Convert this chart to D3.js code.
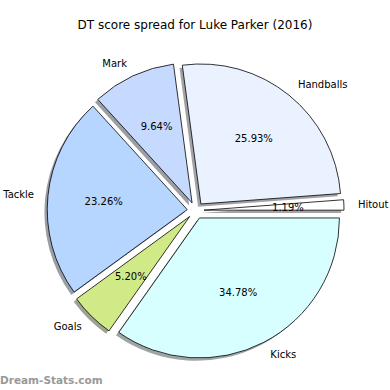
<!DOCTYPE html>
<html>
<head>
<meta charset="utf-8">
<script src="https://cdn.jsdelivr.net/npm/d3@7"></script>
<style>
  body { margin: 0; background: #fff; }
  svg { font-family: "DejaVu Sans", sans-serif; }
</style>
</head>
<body>
<div id="chart"></div>
<script>
// slice order follows the original (counterclockwise from 3 o'clock)
const categories = ["Hitout", "Handballs", "Mark", "Tackle", "Goals", "Kicks"];
const percents = [1.19, 25.93, 9.64, 23.26, 5.20, 34.78];
const colors = ["#ffffff", "#eaf2ff", "#c6d9ff", "#b6d6ff", "#d0ea88", "#d8ffff"];

const width = 390, height = 390;
const cx = 195.6, cy = 210.5, radius = 140;
const explode = 0.06 * radius;

const svg = d3.select("#chart").append("svg")
  .attr("width", width)
  .attr("height", height);

const defs = svg.append("defs");
defs.append("filter").attr("id", "blur")
  .append("feGaussianBlur").attr("stdDeviation", 0.7);

svg.append("text")
  .attr("x", width / 2)
  .attr("y", 25)
  .attr("text-anchor", "middle")
  .attr("dominant-baseline", "central")
  .style("font-size", "12px")
  .text("DT score spread for Luke Parker (2016)");

const data = categories.map((c, i) => ({ name: c, value: percents[i], color: colors[i] }));

// counterclockwise pie starting at 3 o'clock
const pie = d3.pie()
  .sort(null)
  .value(d => d.value)
  .startAngle(Math.PI / 2)
  .endAngle(Math.PI / 2 - 2 * Math.PI);

const arcs = pie(data);
const arc = d3.arc().innerRadius(0).outerRadius(radius);

const mid = d => (d.startAngle + d.endAngle) / 2;
const offset = (d, dist) => [Math.sin(mid(d)) * dist, -Math.cos(mid(d)) * dist];

const g = svg.append("g").attr("transform", `translate(${cx},${cy})`);

// shadows below every wedge
g.selectAll("path.shadow")
  .data(arcs)
  .enter()
  .append("path")
  .attr("class", "shadow")
  .attr("d", arc)
  .attr("transform", d => {
    const [ox, oy] = offset(d, explode);
    return `translate(${ox - 2.8},${oy + 2.8})`;
  })
  .attr("fill", d => {
    const c = d3.rgb(d.data.color);
    return d3.rgb(c.r * 0.3, c.g * 0.3, c.b * 0.3);
  })
  .attr("opacity", 0.5)
  .attr("filter", "url(#blur)");

g.selectAll("path.wedge")
  .data(arcs)
  .enter()
  .append("path")
  .attr("class", "wedge")
  .attr("d", arc)
  .attr("transform", d => {
    const [ox, oy] = offset(d, explode);
    return `translate(${ox},${oy})`;
  })
  .attr("fill", d => d.data.color)
  .attr("stroke", "#000")
  .attr("stroke-width", 0.8)
  .attr("stroke-linejoin", "miter");

// category labels at 1.1 r
g.selectAll("text.label")
  .data(arcs)
  .enter()
  .append("text")
  .attr("class", "label")
  .attr("x", d => offset(d, explode + 1.1 * radius)[0])
  .attr("y", d => offset(d, explode + 1.1 * radius)[1])
  .attr("text-anchor", d => Math.sin(mid(d)) > 0 ? "start" : "end")
  .attr("dominant-baseline", "central")
  .style("font-size", "10px")
  .text(d => d.data.name);

// percentages at 0.6 r
g.selectAll("text.pct")
  .data(arcs)
  .enter()
  .append("text")
  .attr("class", "pct")
  .attr("x", d => offset(d, explode + 0.6 * radius)[0])
  .attr("y", d => offset(d, explode + 0.6 * radius)[1])
  .attr("text-anchor", "middle")
  .attr("dominant-baseline", "central")
  .style("font-size", "10px")
  .text(d => d.data.value.toFixed(2) + "%");

svg.append("text")
  .attr("x", 0)
  .attr("y", 380)
  .attr("dominant-baseline", "central")
  .attr("fill", "#999")
  .style("font-size", "10.5px")
  .style("font-weight", "bold")
  .text("Dream-Stats.com");
</script>
</body>
</html>
